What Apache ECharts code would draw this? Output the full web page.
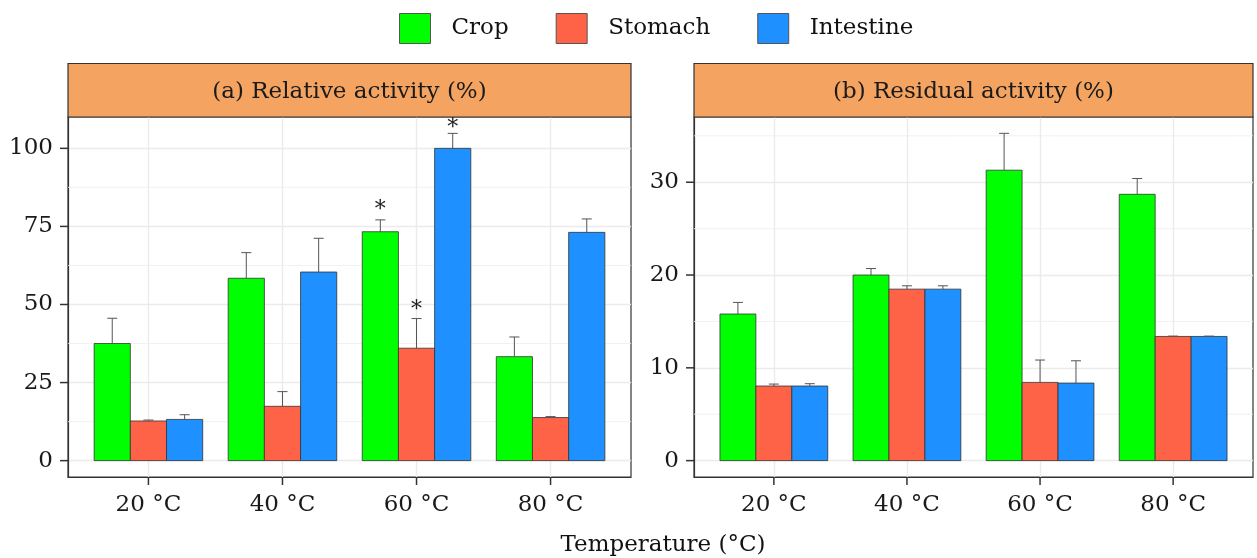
<!DOCTYPE html>
<html><head><meta charset="utf-8">
<script src="https://cdn.jsdelivr.net/npm/echarts@6/dist/echarts.min.js"></script>
<style>html,body{margin:0;padding:0;background:#fff}#c{width:1257px;height:558px}</style>
</head><body><div id="c"></div>
<script>
// ---------- data ----------
const categories = ['20 °C', '40 °C', '60 °C', '80 °C'];
const groupNames = ['Crop', 'Stomach', 'Intestine'];
const groupColors = ['#00FF00', '#FF6347', '#1E90FF'];
const panelTitles = ['(a) Relative activity (%)', '(b) Residual activity (%)'];
const xTitle = 'Temperature (°C)';

// (a) Relative activity (%): mean and upper error
const relCrop = [37.5, 58.4, 73.3, 33.3];
const relCropUp = [45.6, 66.6, 77.1, 39.6];
const relStomach = [12.7, 17.4, 36.0, 13.8];
const relStomachUp = [13.0, 22.1, 45.5, 14.1];
const relIntestine = [13.2, 60.4, 100.0, 73.1];
const relIntestineUp = [14.7, 71.2, 104.8, 77.4];

// (b) Residual activity (%)
const resCrop = [15.8, 20.0, 31.3, 28.7];
const resCropUp = [17.05, 20.7, 35.27, 30.4];
const resStomach = [8.04, 18.48, 8.43, 13.38];
const resStomachUp = [8.25, 18.84, 10.84, 13.42];
const resIntestine = [8.04, 18.48, 8.36, 13.38];
const resIntestineUp = [8.29, 18.84, 10.76, 13.42];

// significance marks in panel (a): category index, group index, label y
const starCat = [2, 2, 2];
const starGroup = [0, 1, 2];
const starY = [81.9, 49.6, 107.9];

// axis ticks
const relTicks = [0, 25, 50, 75, 100];
const relMinor = [12.5, 37.5, 62.5, 87.5];
const resTicks = [0, 10, 20, 30];
const resMinor = [5, 15, 25, 35];
const xTicks = [0, 1, 2, 3];

// ---------- layout / style ----------
const FONT = 'DejaVu Serif';
const FS = 23;
const BW = 0.27;      // bar width (x units)
const CAP = 0.075;    // error bar cap width
const TICK_LEN = 8;
const XMIN = -0.6, XMAX = 3.6;
const panels = [
  {left: 68, width: 563, ymin: -5.24, ymax: 110.04, ticks: relTicks, minor: relMinor},
  {left: 694, width: 559, ymin: -1.764, ymax: 37.03, ticks: resTicks, minor: resMinor}
];
const TOP = 117, HEIGHT = 360, STRIP_TOP = 63.5;

const panelData = [
  [[relCrop, relCropUp], [relStomach, relStomachUp], [relIntestine, relIntestineUp]],
  [[resCrop, resCropUp], [resStomach, resStomachUp], [resIntestine, resIntestineUp]]
];

function barSeries(pi, gi) {
  const vals = panelData[pi][gi][0], ups = panelData[pi][gi][1];
  const color = groupColors[gi];
  return {
    type: 'custom', name: groupNames[gi],
    xAxisIndex: pi, yAxisIndex: pi,
    itemStyle: {color: color},
    data: vals.map((v, i) => [i, v, ups[i]]),
    encode: {x: 0, y: [1, 2]},
    z: 3,
    renderItem(params, api) {
      const i = api.value(0), v = api.value(1), e = api.value(2);
      const xc = i + (gi - 1) * BW;
      const a = api.coord([xc - BW / 2, 0]);
      const b = api.coord([xc + BW / 2, v]);
      const pv = api.coord([xc, v]);
      const pe = api.coord([xc, e]);
      const ch = api.size([CAP, 0])[0] / 2;
      return {type: 'group', children: [
        {type: 'rect', shape: {x: a[0], y: b[1], width: b[0] - a[0], height: a[1] - b[1]},
          style: {fill: color, stroke: '#333', lineWidth: 0.8}},
        {type: 'line', shape: {x1: pv[0], y1: pv[1], x2: pe[0], y2: pe[1]},
          style: {stroke: '#555', lineWidth: 1}},
        {type: 'line', shape: {x1: pe[0] - ch, y1: pe[1], x2: pe[0] + ch, y2: pe[1]},
          style: {stroke: '#555', lineWidth: 1}}
      ]};
    }
  };
}

const series = [];
panels.forEach((P, pi) => {
  // minor horizontal grid lines (through the y scale)
  series.push({
    type: 'custom', name: 'minor' + pi, xAxisIndex: pi, yAxisIndex: pi, z: 1, silent: true,
    data: P.minor.map(v => [v]), encode: {y: 0},
    renderItem(params, api) {
      const a = api.coord([XMIN, api.value(0)]);
      const b = api.coord([XMAX, api.value(0)]);
      return {type: 'line', shape: {x1: a[0], y1: a[1], x2: b[0], y2: b[1]},
        style: {stroke: '#EEEEEE', lineWidth: 0.8}};
    }
  });
  // y-axis tick marks
  series.push({
    type: 'custom', name: 'yticks' + pi, xAxisIndex: pi, yAxisIndex: pi, z: 5, silent: true, clip: false,
    data: P.ticks.map(v => [v]), encode: {y: 0},
    renderItem(params, api) {
      const a = api.coord([XMIN, api.value(0)]);
      return {type: 'line', shape: {x1: a[0] - TICK_LEN, y1: a[1], x2: a[0], y2: a[1]},
        style: {stroke: '#333', lineWidth: 1.5}};
    }
  });
  // x-axis tick marks
  series.push({
    type: 'custom', name: 'xticks' + pi, xAxisIndex: pi, yAxisIndex: pi, z: 5, silent: true, clip: false,
    data: xTicks.map(v => [v]), encode: {x: 0},
    renderItem(params, api) {
      const a = api.coord([api.value(0), P.ymin]);
      return {type: 'line', shape: {x1: a[0], y1: a[1], x2: a[0], y2: a[1] + TICK_LEN},
        style: {stroke: '#333', lineWidth: 1.5}};
    }
  });
});
for (let p = 0; p < 2; p++) for (let g = 0; g < 3; g++) series.push(barSeries(p, g));
series.push({
  type: 'custom', name: 'stars', xAxisIndex: 0, yAxisIndex: 0, z: 4,
  data: starCat.map((c, k) => [c, starY[k], starGroup[k]]),
  renderItem(params, api) {
    const xc = api.value(0) + (api.value(2) - 1) * BW;
    const p = api.coord([xc, api.value(1)]);
    return {type: 'text', x: p[0], y: p[1] + 5,
      style: {text: '*', fill: '#222', font: '22px "' + FONT + '"', align: 'center', verticalAlign: 'middle'}};
  }
});

const grids = [], xAxes = [], yAxes = [], graphics = [];
panels.forEach((P, i) => {
  grids.push({left: P.left, top: TOP, width: P.width, height: HEIGHT, show: true,
    borderColor: '#333', borderWidth: 1.2});
  xAxes.push({type: 'value', gridIndex: i, min: XMIN, max: XMAX,
    axisLine: {show: true, onZero: false, lineStyle: {color: '#333', width: 1.2}},
    axisTick: {show: false, customValues: xTicks.slice()},
    axisLabel: {customValues: xTicks.slice(), formatter: v => categories[Math.round(v)], margin: 17,
      color: '#1a1a1a', fontFamily: FONT, fontSize: FS},
    splitLine: {show: true, lineStyle: {color: '#EBEBEB', width: 1.4}}
  });
  yAxes.push({type: 'value', gridIndex: i, min: P.ymin, max: P.ymax,
    axisLine: {show: true, onZero: false, lineStyle: {color: '#333', width: 1.2}},
    axisTick: {show: false, customValues: P.ticks.slice()},
    axisLabel: {customValues: P.ticks.slice(), margin: 15, color: '#1a1a1a', fontFamily: FONT, fontSize: FS},
    splitLine: {show: true, lineStyle: {color: '#EBEBEB', width: 1.4}}
  });
  graphics.push({type: 'rect', shape: {x: P.left, y: STRIP_TOP, width: P.width, height: TOP - STRIP_TOP},
    style: {fill: '#F4A460', stroke: '#333', lineWidth: 1.2}, z: 10});
  graphics.push({type: 'text', x: P.left + P.width / 2, y: (STRIP_TOP + TOP) / 2 + 2,
    style: {text: panelTitles[i], fill: '#1a1a1a', font: FS + 'px "' + FONT + '"', align: 'center', verticalAlign: 'middle'}, z: 11});
});
graphics.push({type: 'text', x: 663, y: 545,
  style: {text: xTitle, fill: '#111', font: FS + 'px "' + FONT + '"', align: 'center', verticalAlign: 'middle'}, z: 11});

const chart = echarts.init(document.getElementById('c'), null, {renderer: 'canvas'});
chart.setOption({
  animation: false,
  backgroundColor: '#fff',
  legend: {
    data: groupNames.map(n => ({name: n, icon: 'rect'})),
    left: 394, top: 8, itemWidth: 31, itemHeight: 30, itemGap: 47,
    itemStyle: {borderColor: '#555', borderWidth: 1},
    textStyle: {fontFamily: FONT, fontSize: FS, color: '#111', padding: [0, 0, 0, 16]}
  },
  grid: grids, xAxis: xAxes, yAxis: yAxes, series: series, graphic: graphics
});
</script></body></html>
